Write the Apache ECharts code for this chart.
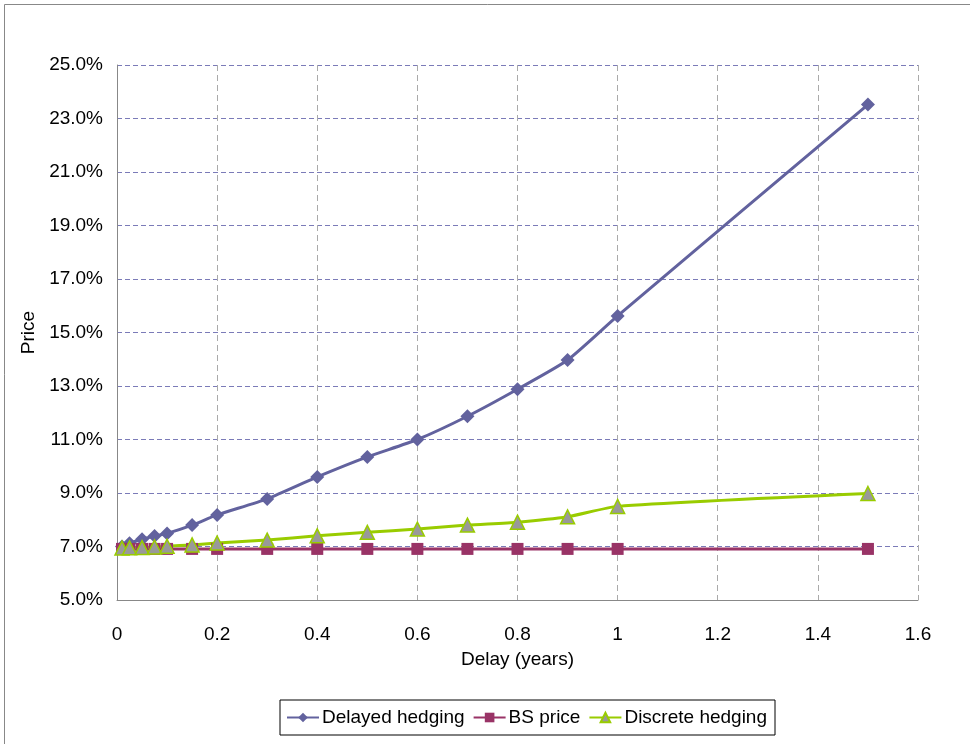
<!DOCTYPE html>
<html><head><meta charset="utf-8">
<script src="https://cdn.jsdelivr.net/npm/echarts@6/dist/echarts.min.js"></script>
<style>html,body{margin:0;padding:0;background:#fff}#c{width:970px;height:744px}</style>
</head><body><div id="c"></div>
<script>
const delays = [0.01, 0.025, 0.05, 0.075, 0.1, 0.15, 0.2, 0.3, 0.4, 0.5, 0.6, 0.7, 0.8, 0.9, 1.0, 1.5];
const delayedHedging = [7.0, 7.12, 7.27, 7.39, 7.49, 7.80, 8.18, 8.78, 9.60, 10.35, 11.0, 11.87, 12.88, 13.97, 15.62, 23.52];
const bsPrice = [6.91, 6.91, 6.91, 6.91, 6.91, 6.91, 6.91, 6.91, 6.91, 6.91, 6.91, 6.91, 6.91, 6.91, 6.91, 6.91];
const discreteHedging = [6.94, 6.95, 6.96, 6.98, 7.01, 7.06, 7.13, 7.24, 7.40, 7.53, 7.65, 7.80, 7.91, 8.11, 8.50, 8.98];
const seriesNames = ['Delayed hedging', 'BS price', 'Discrete hedging'];

const pairs = ys => delays.map((x, i) => [x, ys[i]]);
const chart = echarts.init(document.getElementById('c'), null, {renderer: 'canvas'});
const font = 'Arial, "Liberation Sans", sans-serif';
chart.setOption({
  animation: false,
  backgroundColor: '#fff',
  graphic: [{type: 'rect', shape: {x: 4.5, y: 4.5, width: 1000, height: 800}, style: {fill: 'none', stroke: '#888', lineWidth: 1}, z: -1}],
  grid: {left: 117, right: 52, top: 65, bottom: 144},
  xAxis: {
    type: 'value', min: 0, max: 1.6, interval: 0.2,
    name: 'Delay (years)', nameLocation: 'middle', nameGap: 50,
    nameTextStyle: {fontFamily: font, fontSize: 19, color: '#000'},
    axisLine: {lineStyle: {color: '#888', width: 1}},
    axisTick: {show: false},
    axisLabel: {fontFamily: font, fontSize: 19, color: '#000', margin: 25},
    splitLine: {show: true, lineStyle: {color: '#aaa', type: [6, 4], width: 1}}
  },
  yAxis: {
    type: 'value', min: 5, max: 25, interval: 2,
    name: 'Price', nameLocation: 'middle', nameGap: 77, nameRotate: 90,
    nameTextStyle: {fontFamily: font, fontSize: 19, color: '#000'},
    axisLine: {show: true, lineStyle: {color: '#888', width: 1}},
    axisTick: {show: false},
    axisLabel: {fontFamily: font, fontSize: 19, color: '#000', margin: 14, formatter: v => v.toFixed(1) + '%'},
    splitLine: {show: true, lineStyle: {color: '#7b7bb8', type: [5, 3], width: 1}}
  },
  legend: {
    data: seriesNames,
    bottom: 9, left: 280,
    borderColor: '#000', borderWidth: 1, padding: [8, 8, 8, 6],
    itemGap: 8, itemWidth: 32, itemHeight: 12,
    textStyle: {fontFamily: font, fontSize: 19, color: '#000', padding: [0, 0, 0, -2]}
  },
  series: [
    {name: seriesNames[0], type: 'line', data: pairs(delayedHedging), smooth: 0.2,
     symbol: 'diamond', symbolSize: 14,
     lineStyle: {color: '#62629e', width: 3}, itemStyle: {color: '#62629e'}},
    {name: seriesNames[1], type: 'line', data: pairs(bsPrice), smooth: 0.2,
     symbol: 'rect', symbolSize: 12,
     lineStyle: {color: '#993366', width: 3}, itemStyle: {color: '#993366'}},
    {name: seriesNames[2], type: 'line', data: pairs(discreteHedging), smooth: 0.2,
     symbol: 'triangle', symbolSize: 14,
     lineStyle: {color: '#99cc00', width: 3}, itemStyle: {color: '#999999', borderColor: '#99cc00', borderWidth: 1.5}}
  ]
});
</script></body></html>
